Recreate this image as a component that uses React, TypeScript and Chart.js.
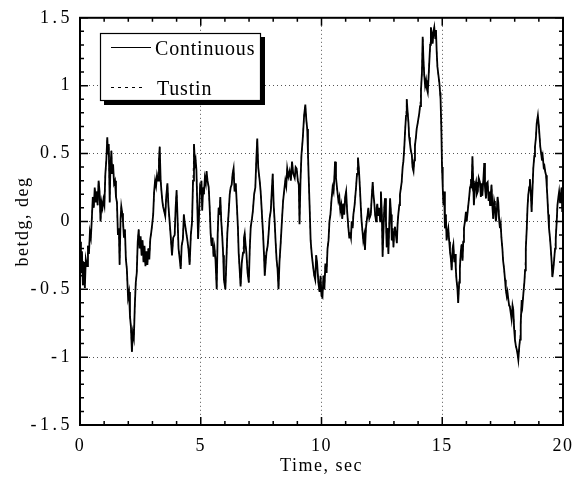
import { useEffect, useRef } from "react";
import { Chart, registerables } from "chart.js";

Chart.register(...registerables);

// ---- Data (time in sec, betdg in deg) ----
const trace0to5: [number, number][] = [
  [0.00,-0.15],[0.04,-0.38],[0.08,-0.22],[0.12,-0.47],[0.16,-0.30],[0.20,-0.49],[0.24,-0.28],[0.29,-0.33],
  [0.33,-0.18],[0.37,-0.24],[0.41,-0.08],[0.45,-0.12],[0.49,0.02],[0.53,0.18],[0.57,0.10],[0.61,0.25],
  [0.65,0.14],[0.69,0.22],[0.73,0.12],[0.77,0.30],[0.81,0.22],[0.85,0.00],[0.89,0.14],[0.93,0.10],
  [0.97,0.16],[1.01,0.12],[1.05,0.35],[1.09,0.45],[1.13,0.62],[1.16,0.50],[1.19,0.57],[1.23,0.14],
  [1.26,0.40],[1.30,0.52],[1.33,0.35],[1.37,0.42],[1.41,0.28],[1.45,0.30],[1.49,0.18],[1.53,0.14],
  [1.57,-0.10],[1.61,-0.05],[1.64,-0.32],[1.68,0.02],[1.71,0.11],[1.75,0.06],[1.78,0.00],[1.82,-0.12],
  [1.86,-0.06],[1.90,-0.28],[1.94,-0.35],[1.99,-0.56],[2.03,-0.52],[2.07,-0.70],[2.11,-0.78],[2.15,-0.96],
  [2.19,-0.82],[2.23,-0.86],[2.27,-0.62],[2.31,-0.45],[2.35,-0.38],[2.39,-0.15],[2.43,-0.06],[2.47,-0.20],
  [2.51,-0.11],[2.55,-0.25],[2.59,-0.14],[2.63,-0.30],[2.67,-0.18],[2.71,-0.33],[2.75,-0.22],[2.79,-0.32],
  [2.83,-0.20],[2.87,-0.28],[2.91,-0.13],[2.95,-0.08],[2.99,-0.02],[3.03,0.05],[3.07,0.22],[3.11,0.30],
  [3.15,0.26],[3.19,0.34],[3.23,0.30],[3.27,0.45],[3.30,0.55],[3.34,0.30],[3.37,0.23],[3.41,0.15],
  [3.44,0.11],[3.48,0.08],[3.53,0.04],[3.57,0.18],[3.62,0.28],[3.66,0.12],[3.71,0.00],[3.76,-0.12],
  [3.81,-0.25],[3.86,-0.12],[3.92,-0.10],[3.96,0.10],[4.00,0.23],[4.04,0.02],[4.08,-0.20],[4.13,-0.28],
  [4.17,-0.35],[4.21,-0.18],[4.26,-0.13],[4.30,0.05],[4.33,0.00],[4.38,-0.06],[4.44,-0.13],[4.49,-0.20],
  [4.54,-0.32],[4.59,-0.10],[4.64,0.00],[4.68,0.30],[4.72,0.57],[4.76,0.42],[4.79,0.45],[4.82,0.38],
  [4.86,0.10],[4.89,-0.13],[4.93,0.05],[4.97,0.25],[5.00,0.23],
];

const trace5to10: [number, number][] = [
  [5.03,0.30],[5.06,0.08],[5.10,0.25],[5.13,0.20],[5.17,0.32],[5.21,0.28],[5.24,0.37],[5.28,0.30],
  [5.33,0.25],[5.37,0.10],[5.41,-0.09],[5.45,-0.18],[5.49,-0.12],[5.53,-0.26],[5.57,-0.20],[5.61,-0.28],
  [5.66,-0.50],[5.70,-0.10],[5.74,0.10],[5.78,0.05],[5.81,0.18],[5.85,0.00],[5.89,-0.11],[5.93,-0.25],
  [5.96,-0.43],[6.02,-0.50],[6.06,-0.30],[6.10,-0.09],[6.15,0.05],[6.20,0.20],[6.24,0.25],[6.28,0.27],
  [6.32,0.35],[6.36,0.39],[6.40,0.22],[6.45,0.28],[6.50,0.10],[6.54,-0.05],[6.57,-0.23],[6.61,-0.35],
  [6.65,-0.48],[6.70,-0.30],[6.75,-0.23],[6.79,-0.12],[6.82,-0.09],[6.86,-0.18],[6.89,-0.23],[6.94,-0.38],
  [6.99,-0.45],[7.03,-0.20],[7.07,-0.04],[7.12,0.02],[7.16,0.08],[7.21,0.20],[7.26,0.25],[7.30,0.45],
  [7.34,0.61],[7.38,0.40],[7.44,0.30],[7.48,0.22],[7.51,0.13],[7.55,0.00],[7.58,-0.09],[7.62,-0.25],
  [7.65,-0.40],[7.69,-0.30],[7.72,-0.23],[7.77,-0.18],[7.81,-0.09],[7.85,0.02],[7.90,0.08],[7.94,0.22],
  [7.98,0.35],[8.02,0.12],[8.06,0.00],[8.10,-0.15],[8.14,-0.28],[8.18,-0.35],[8.22,-0.50],[8.26,-0.30],
  [8.31,-0.16],[8.36,0.00],[8.41,0.15],[8.45,0.22],[8.50,0.30],[8.54,0.26],[8.58,0.39],[8.63,0.33],
  [8.68,0.37],[8.73,0.30],[8.78,0.44],[8.83,0.35],[8.89,0.32],[8.93,0.40],[8.97,0.39],[9.02,0.30],
  [9.06,0.27],[9.09,-0.02],[9.13,0.30],[9.17,0.49],[9.22,0.60],[9.28,0.78],[9.33,0.86],[9.37,0.75],
  [9.41,0.68],[9.44,0.50],[9.47,0.32],[9.51,0.10],[9.55,-0.14],[9.60,-0.25],[9.65,-0.33],[9.70,-0.40],
  [9.74,-0.43],[9.78,-0.25],[9.82,-0.31],[9.87,-0.45],[9.92,-0.52],[9.96,-0.40],[10.00,-0.55],
];

const trace10to15: [number, number][] = [
  [10.04,-0.56],[10.08,-0.40],[10.12,-0.50],[10.16,-0.31],[10.21,-0.38],[10.25,-0.20],[10.29,-0.14],[10.33,0.00],
  [10.37,0.05],[10.41,0.15],[10.46,0.25],[10.50,0.22],[10.54,0.35],[10.56,0.44],[10.60,0.32],[10.63,0.27],
  [10.67,0.20],[10.70,0.15],[10.74,0.18],[10.78,0.08],[10.82,0.12],[10.86,0.02],[10.90,0.13],[10.94,0.05],
  [10.98,0.18],[11.02,0.22],[11.06,0.08],[11.11,-0.04],[11.15,-0.12],[11.18,-0.08],[11.22,-0.12],[11.25,0.00],
  [11.29,-0.05],[11.32,0.05],[11.37,0.12],[11.43,0.25],[11.47,0.35],[11.51,0.47],[11.55,0.38],[11.59,0.25],
  [11.63,0.10],[11.66,0.00],[11.70,-0.08],[11.73,-0.14],[11.77,-0.10],[11.80,-0.21],[11.84,-0.05],[11.87,0.00],
  [11.91,0.05],[11.94,0.10],[11.98,0.02],[12.04,0.05],[12.08,0.18],[12.12,0.29],[12.15,0.20],[12.18,0.15],
  [12.22,0.05],[12.26,0.00],[12.29,0.10],[12.31,0.13],[12.35,0.04],[12.39,0.10],[12.43,0.00],[12.46,0.22],
  [12.50,0.05],[12.53,-0.26],[12.57,-0.05],[12.60,0.10],[12.63,0.17],[12.67,0.00],[12.70,-0.19],[12.74,-0.05],
  [12.77,-0.24],[12.81,0.00],[12.84,0.17],[12.88,0.05],[12.91,-0.14],[12.95,-0.05],[12.98,-0.19],[13.01,-0.08],
  [13.04,-0.04],[13.08,-0.10],[13.12,-0.16],[13.15,-0.02],[13.18,0.05],[13.22,0.12],[13.25,0.20],[13.29,0.25],
  [13.32,0.29],[13.36,0.40],[13.39,0.44],[13.43,0.55],[13.46,0.66],[13.50,0.78],[13.53,0.90],[13.56,0.82],
  [13.60,0.73],[13.63,0.62],[13.66,0.58],[13.70,0.52],[13.74,0.49],[13.77,0.40],[13.81,0.37],[13.84,0.45],
  [13.87,0.56],[13.91,0.62],[13.94,0.68],[13.98,0.72],[14.05,0.80],[14.08,0.85],[14.12,0.97],[14.16,1.10],
  [14.19,1.36],[14.22,1.20],[14.25,1.09],[14.29,1.00],[14.33,1.04],[14.36,0.98],[14.40,0.95],[14.43,1.05],
  [14.46,1.16],[14.50,1.30],[14.53,1.43],[14.57,1.38],[14.60,1.31],[14.64,1.40],[14.67,1.43],[14.71,1.35],
  [14.74,1.41],[14.77,1.25],[14.80,1.14],[14.84,1.08],[14.88,1.02],[14.91,0.95],[14.93,0.90],[14.96,0.70],
  [14.99,0.40],[15.02,0.25],
];

const trace15to20: [number, number][] = [
  [15.05,0.12],[15.08,0.22],[15.11,-0.05],[15.15,0.05],[15.18,-0.14],[15.22,-0.08],[15.25,-0.05],[15.29,-0.15],
  [15.32,-0.22],[15.36,-0.28],[15.39,-0.36],[15.43,-0.20],[15.46,-0.17],[15.50,-0.30],[15.53,-0.24],[15.56,-0.35],
  [15.59,-0.43],[15.63,-0.50],[15.66,-0.60],[15.70,-0.45],[15.73,-0.34],[15.77,-0.22],[15.80,-0.17],[15.84,-0.29],
  [15.87,-0.15],[15.90,-0.05],[15.94,0.00],[15.98,0.07],[16.01,0.00],[16.04,0.05],[16.08,0.12],[16.12,0.19],
  [16.15,0.25],[16.19,0.31],[16.22,0.28],[16.25,0.48],[16.28,0.30],[16.31,0.12],[16.35,0.25],[16.40,0.29],
  [16.43,0.20],[16.47,0.22],[16.51,0.32],[16.56,0.29],[16.60,0.18],[16.63,0.28],[16.66,0.19],[16.70,0.30],
  [16.74,0.43],[16.77,0.25],[16.81,0.17],[16.84,0.28],[16.88,0.29],[16.92,0.15],[16.95,0.22],[16.98,0.12],
  [17.01,0.20],[17.04,0.27],[17.08,0.10],[17.11,0.02],[17.15,0.15],[17.18,0.12],[17.22,0.00],[17.25,0.05],
  [17.29,0.18],[17.32,0.14],[17.36,0.00],[17.39,-0.05],[17.42,-0.02],[17.45,-0.12],[17.49,-0.20],[17.52,-0.29],
  [17.56,-0.35],[17.60,-0.43],[17.63,-0.50],[17.67,-0.55],[17.70,-0.52],[17.74,-0.58],[17.77,-0.62],[17.80,-0.63],
  [17.84,-0.68],[17.87,-0.72],[17.91,-0.62],[17.94,-0.65],[17.98,-0.80],[18.01,-0.87],[18.05,-0.92],[18.08,-0.94],
  [18.12,-0.98],[18.15,-1.02],[18.19,-0.92],[18.22,-0.87],[18.25,-0.75],[18.29,-0.58],[18.32,-0.62],[18.36,-0.53],
  [18.40,-0.45],[18.43,-0.36],[18.46,-0.20],[18.50,-0.05],[18.53,0.10],[18.56,0.19],[18.60,0.25],[18.63,0.31],
  [18.67,0.20],[18.70,0.07],[18.74,0.25],[18.77,0.39],[18.81,0.48],[18.84,0.55],[18.88,0.62],[18.91,0.72],
  [18.96,0.78],[19.00,0.70],[19.02,0.65],[19.06,0.55],[19.09,0.51],[19.13,0.45],[19.16,0.48],[19.20,0.40],
  [19.23,0.41],[19.27,0.36],[19.30,0.34],[19.33,0.25],[19.35,0.19],[19.39,0.05],[19.42,-0.05],[19.46,-0.12],
  [19.49,-0.19],[19.53,-0.30],[19.56,-0.41],[19.60,-0.35],[19.63,-0.29],[19.67,-0.20],[19.70,-0.12],[19.74,0.00],
  [19.77,0.12],[19.81,0.18],[19.84,0.22],[19.88,0.14],[19.90,0.17],[19.94,0.25],[19.97,0.07],[20.00,0.15],
];

// Continuous and Tustin responses coincide in the reference
const continuousTrace = [...trace0to5, ...trace5to10, ...trace10to15, ...trace15to20];
const tustinTrace = continuousTrace;

const seriesLabels = ["Continuous", "Tustin"];
const xTickValues = [0, 5, 10, 15, 20];
const xTickLabels = ["0", "5", "10", "15", "20"];
const yTickValues = [-1.5, -1, -0.5, 0, 0.5, 1, 1.5];
const yTickLabels = ["-1.5", "-1", "-0.5", "0", "0.5", "1", "1.5"];
const xMinorStep = 1;
const yMinorStep = 0.1;
const xTitle = "Time, sec";
const yTitle = "betdg, deg";

const FONT = "'Liberation Serif', 'Times New Roman', serif";

// letter spacing: titles / x labels drawn before datasets, y labels (z: 1) after
const spacingPlugin = {
  id: "spacing",
  beforeDraw(chart: any) {
    (chart.ctx as any).letterSpacing = "1.5px";
  },
  afterDatasetsDraw(chart: any) {
    (chart.ctx as any).letterSpacing = "3.5px";
  },
};

const framePlugin = {
  id: "frameTicks",
  afterDraw(chart: any) {
    const ctx = chart.ctx as CanvasRenderingContext2D;
    (ctx as any).letterSpacing = "0px";
    const { left, right, top, bottom } = chart.chartArea;
    const xs = chart.scales.x;
    const ys = chart.scales.y;
    ctx.save();
    ctx.strokeStyle = "#000";
    ctx.lineWidth = 2;
    ctx.setLineDash([]);
    ctx.strokeRect(left, top, right - left, bottom - top);
    ctx.lineWidth = 1.5;
    ctx.beginPath();
    const xMin = xs.min, xMax = xs.max;
    const nx = Math.round((xMax - xMin) / xMinorStep);
    for (let i = 0; i <= nx; i++) {
      const v = xMin + i * xMinorStep;
      const px = xs.getPixelForValue(v);
      const major = xTickValues.some((t) => Math.abs(t - v) < 1e-6);
      const len = major ? 8 : 4;
      ctx.moveTo(px, bottom);
      ctx.lineTo(px, bottom - len);
      ctx.moveTo(px, top);
      ctx.lineTo(px, top + len);
    }
    const yMin = ys.min, yMax = ys.max;
    const ny = Math.round((yMax - yMin) / yMinorStep);
    for (let i = 0; i <= ny; i++) {
      const v = yMin + i * yMinorStep;
      const py = ys.getPixelForValue(v);
      const major = yTickValues.some((t) => Math.abs(t - v) < 1e-6);
      const len = major ? 8 : 4;
      ctx.moveTo(left, py);
      ctx.lineTo(left + len, py);
      ctx.moveTo(right, py);
      ctx.lineTo(right - len, py);
    }
    ctx.stroke();
    ctx.restore();
  },
};

const boxLegendPlugin = {
  id: "boxLegend",
  afterDraw(chart: any) {
    const ctx = chart.ctx as CanvasRenderingContext2D;
    const x0 = 100, y0 = 33, w = 161, h = 68;
    ctx.save();
    ctx.setLineDash([]);
    ctx.fillStyle = "#000";
    ctx.fillRect(x0 + 4, y0 + 4, w, h);
    ctx.fillStyle = "#fff";
    ctx.fillRect(x0, y0, w, h);
    ctx.strokeStyle = "#000";
    ctx.lineWidth = 1.2;
    ctx.strokeRect(x0 + 0.5, y0 + 0.5, w - 1, h - 1);
    const rows = [47.5, 87.5];
    chart.data.datasets.forEach((ds: any, i: number) => {
      const y = rows[i];
      ctx.beginPath();
      ctx.lineWidth = 1;
      ctx.strokeStyle = "#000";
      ctx.setLineDash(ds.borderDash || []);
      ctx.moveTo(111, y);
      ctx.lineTo(i === 0 ? 151 : 143, y);
      ctx.stroke();
      ctx.setLineDash([]);
      (ctx as any).letterSpacing = "0.8px";
      ctx.font = `20px ${FONT}`;
      ctx.fillStyle = "#000";
      ctx.textBaseline = "alphabetic";
      ctx.textAlign = "left";
      ctx.fillText(ds.label, i === 0 ? 155 : 157, y + 7);
    });
    (ctx as any).letterSpacing = "0px";
    ctx.restore();
  },
};

export default function App() {
  const ref = useRef<HTMLCanvasElement | null>(null);

  useEffect(() => {
    if (!ref.current) return;
    const chart = new Chart(ref.current, {
      type: "line",
      data: {
        datasets: [
          {
            label: seriesLabels[0],
            data: continuousTrace.map(([x, y]) => ({ x, y })),
            borderColor: "#000",
            borderWidth: 1.8,
            pointRadius: 0,
            tension: 0,
          },
          {
            label: seriesLabels[1],
            data: tustinTrace.map(([x, y]) => ({ x, y })),
            borderColor: "#000",
            borderWidth: 1,
            borderDash: [3, 4],
            pointRadius: 0,
            tension: 0,
          },
        ],
      },
      options: {
        animation: false,
        responsive: false,
        layout: { padding: { left: 0, top: 11, right: 22, bottom: 0 } },
        plugins: { legend: { display: false }, tooltip: { enabled: false } },
        scales: {
          x: {
            type: "linear",
            min: 0,
            max: 20,
            afterBuildTicks: (s: any) => {
              s.ticks = xTickValues.map((value) => ({ value }));
            },
            afterFit: (s: any) => {
              s.height = 59;
            },
            ticks: {
              padding: 10,
              color: "#000",
              font: { family: FONT, size: 18 },
              maxRotation: 0,
              autoSkip: false,
              callback: (v: any) => xTickLabels[xTickValues.indexOf(Number(v))],
            },
            grid: { color: "#555", lineWidth: 1, drawTicks: false },
            border: { display: true, color: "#000", width: 2, dash: [1, 3] },
            title: {
              display: true,
              text: xTitle,
              color: "#000",
              font: { family: FONT, size: 18 },
              padding: { top: 0, bottom: 7 },
            },
          },
          y: {
            type: "linear",
            min: -1.5,
            max: 1.5,
            afterBuildTicks: (s: any) => {
              s.ticks = yTickValues.map((value) => ({ value }));
            },
            afterFit: (s: any) => {
              s.width = 80;
            },
            ticks: {
              z: 1,
              padding: 7,
              color: "#000",
              font: { family: FONT, size: 18 },
              autoSkip: false,
              callback: (v: any) => yTickLabels[yTickValues.indexOf(Number(v))],
            },
            grid: { color: "#555", lineWidth: 1, drawTicks: false },
            border: { display: true, color: "#000", width: 2, dash: [1, 3] },
            title: {
              display: true,
              text: yTitle,
              color: "#000",
              font: { family: FONT, size: 18 },
              padding: { top: 12, bottom: 0 },
            },
          },
        },
      },
      plugins: [spacingPlugin, framePlugin, boxLegendPlugin],
    } as any);
    return () => chart.destroy();
  }, []);

  return (
    <div style={{ position: "absolute", left: 0, top: 0, width: 585, height: 484, background: "#fff" }}>
      <canvas ref={ref} width={585} height={484} style={{ display: "block", width: 585, height: 484 }} />
    </div>
  );
}
